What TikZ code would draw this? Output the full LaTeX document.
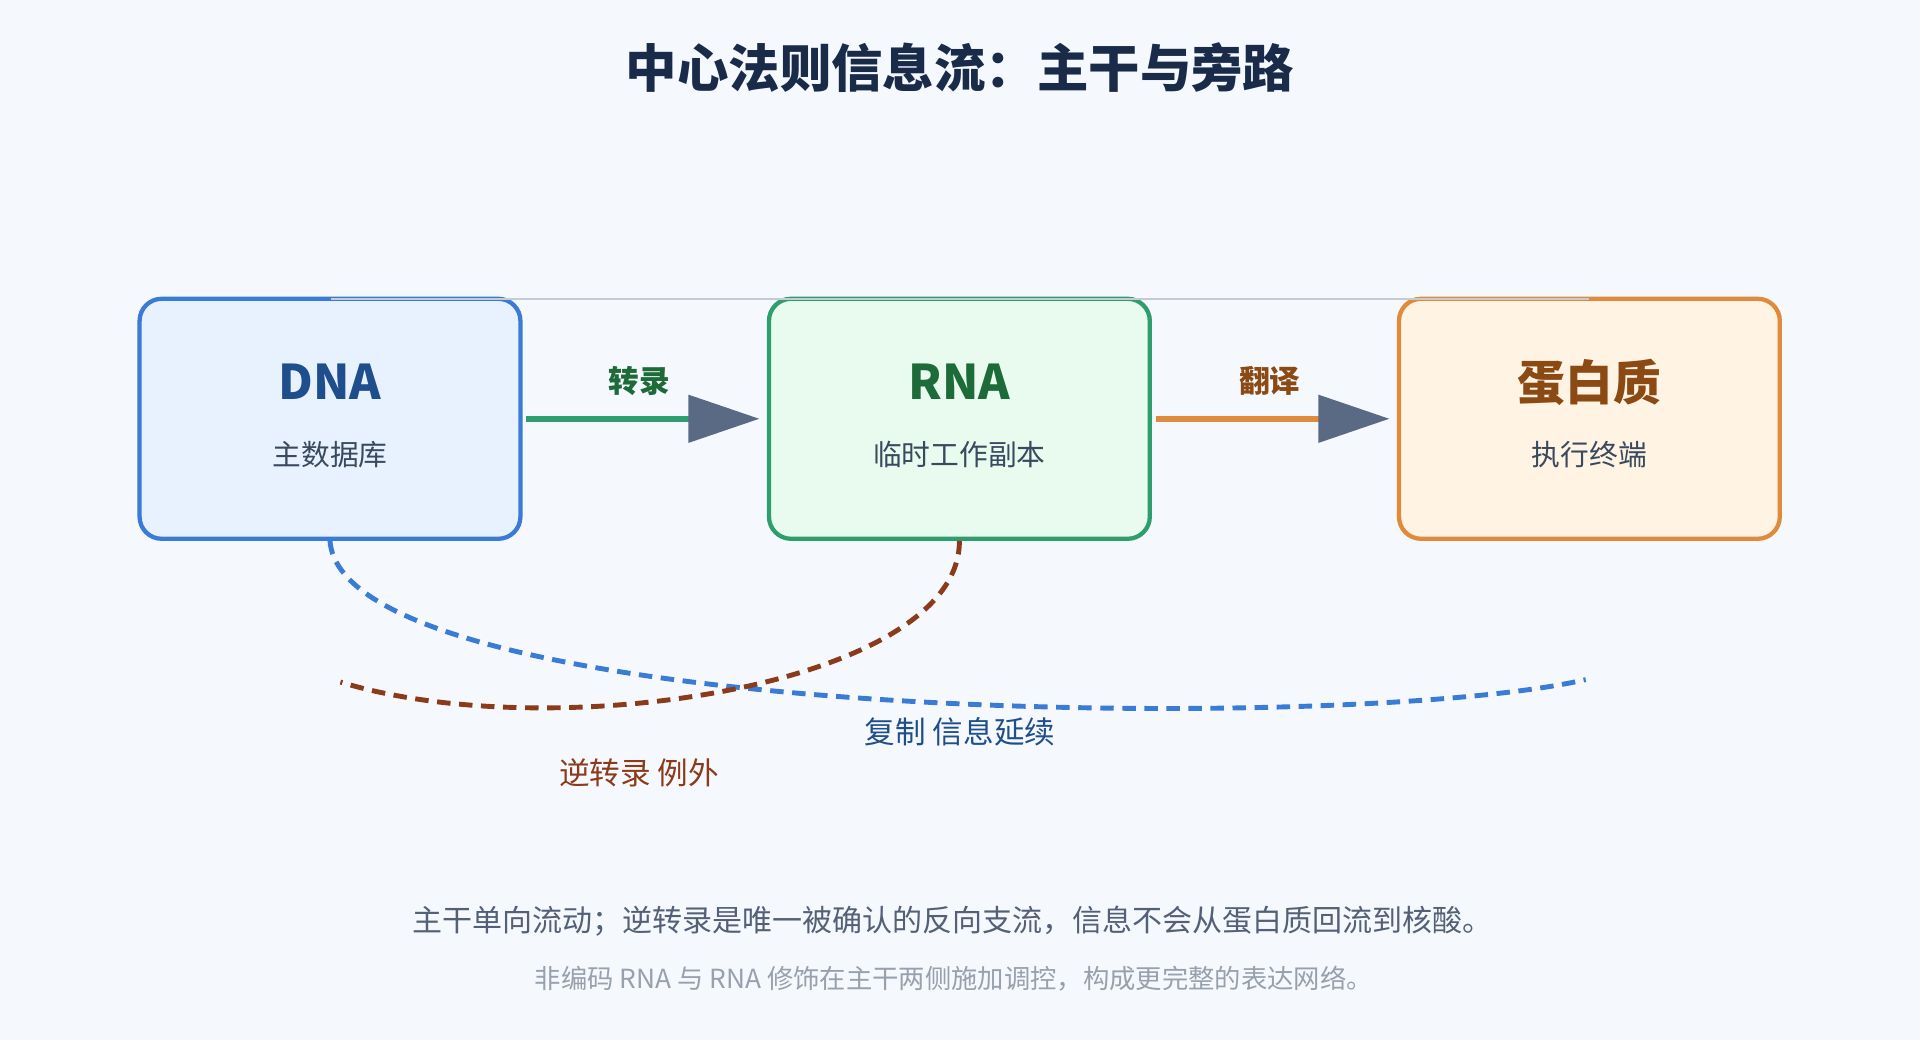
\documentclass[tikz,border=0pt]{standalone}
\usepackage{fontspec}
\setmainfont{Noto Sans CJK SC}
\usetikzlibrary{arrows.meta}
\definecolor{bgc}{HTML}{F5F9FD}
\definecolor{titlec}{HTML}{1A2B4A}
\definecolor{dnab}{HTML}{3A7BD5}
\definecolor{dnaf}{HTML}{E8F2FF}
\definecolor{dnat}{HTML}{1F4E8C}
\definecolor{rnab}{HTML}{2E9E6E}
\definecolor{rnaf}{HTML}{E8FBEE}
\definecolor{rnat}{HTML}{1E6B3A}
\definecolor{prob}{HTML}{E08A3C}
\definecolor{prof}{HTML}{FFF3E3}
\definecolor{prot}{HTML}{8B4A14}
\definecolor{tipc}{HTML}{5A6A85}
\definecolor{revc}{HTML}{8B3A1A}
\definecolor{subc}{HTML}{3A4A5E}
\begin{document}
\begin{tikzpicture}[
            x=1pt, y=-1pt,
            box/.style = {draw, line width=3.5pt, rounded corners=18pt, minimum width=311pt, minimum height=196pt, inner sep=0pt},
            mol/.style = {font=\fontsize{39}{44}\selectfont\bfseries},
            sub/.style = {font=\fontsize{23.5}{28}\selectfont, text=subc},
            steplbl/.style = {font=\fontsize{25}{28}\selectfont\bfseries},
            arr/.style = {line width=5pt, -{Triangle[length=58pt, width=38pt, color=tipc, fill=tipc]}, shorten <=3pt, shorten >=6pt},
            side/.style = {line width=4pt, dash pattern=on 11pt off 7pt},
        ]
        \fill[bgc] (0,0) rectangle (1568,849);
        \useasboundingbox (0,0) rectangle (1568,849);

        \node (title) [font=\fontsize{42}{50}\selectfont\bfseries, text=titlec] at (784,55) {中心法则信息流：主干与旁路};

        \node (dna) [box, draw=dnab, fill=dnaf] at (269.5,342) {};
        \node (rna) [box, draw=rnab, fill=rnaf] at (783.5,342) {};
        \node (pro) [box, draw=prob, fill=prof] at (1298,342) {};
        \draw[line width=1.2pt, color=titlec!25] (270,244) -- (1298,244);

        \node (dnan) [mol, text=dnat] at (269.5,312) {DNA};
        \node (dnas) [sub] at (269.5,371) {主数据库};
        \node (rnan) [mol, text=rnat] at (783.5,312) {RNA};
        \node (rnas) [sub] at (783.5,371) {临时工作副本};
        \node (pron) [mol, text=prot] at (1298,312) {蛋白质};
        \node (pros) [sub] at (1298,371) {执行终端};

        \draw[arr, rnab] (dna) -- (rna);
        \draw[arr, prob] (rna) -- (pro);
        \node (tr) [steplbl, text=rnat] at (522,311) {转录};
        \node (tl) [steplbl, text=prot] at (1037,311) {翻译};

        \coordinate (repend) at (1295,555);
        \coordinate (revend) at (278,557);
        \draw[side, dnab] (dna.south) .. controls (280,590) and (1100,600) .. (repend);
        \draw[side, revc] (rna.south) .. controls (784,560) and (450,610) .. (revend);
        \node (rep) [font=\fontsize{25}{30}\selectfont, text=dnat] at (784,598) {复制 信息延续};
        \node (rev) [font=\fontsize{25}{30}\selectfont, text=revc] at (522,631) {逆转录 例外};

        \node (note1) [font=\fontsize{24.5}{30}\selectfont, text=titlec!75] at (778,752) {主干单向流动；逆转录是唯一被确认的反向支流，信息不会从蛋白质回流到核酸。};
        \node (note2) [font=\fontsize{21.5}{26}\selectfont, text=titlec!45] at (779,799) {非编码 RNA 与 RNA 修饰在主干两侧施加调控，构成更完整的表达网络。};
\end{tikzpicture}
\end{document}
